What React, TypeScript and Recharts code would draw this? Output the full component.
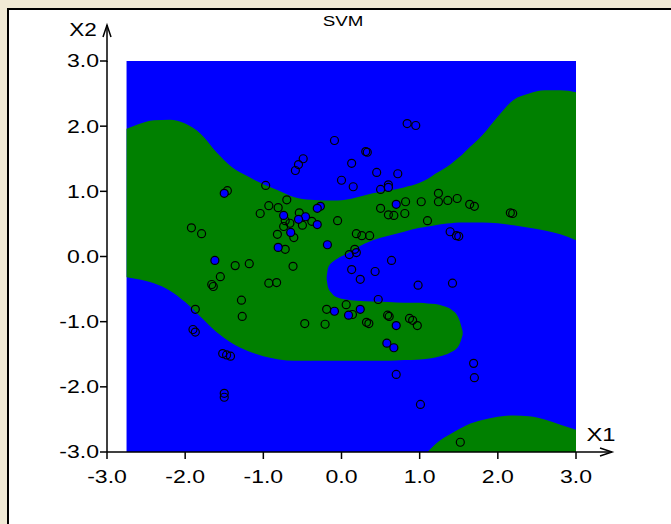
import React from 'react';
import { ComposedChart, Area, Scatter, XAxis, YAxis } from 'recharts';

// boundary columns of the decision regions
const xs = [-2.75, -2.6, -2.4, -2.2, -2.0, -1.8, -1.6, -1.4, -1.2, -1.0, -0.8, -0.6, -0.4, -0.2, -0.17, -0.12, -0.05, 0.05, 0.2, 0.4, 0.6, 0.8, 1.0, 1.1, 1.2, 1.3, 1.4, 1.5, 1.55, 1.6, 1.8, 2.0, 2.2, 2.4, 2.6, 2.8, 3.0];
const bandHigh = [1.96, 2.03, 2.09, 2.10, 2.04, 1.88, 1.60, 1.37, 1.23, 1.11, 1.01, 0.91, 0.87, 0.86, 0.86, 0.86, 0.86, 0.87, 0.91, 0.97, 1.01, 1.06, 1.13, 1.19, 1.27, 1.34, 1.42, 1.52, 1.57, 1.63, 1.86, 2.15, 2.40, 2.50, 2.55, 2.55, 2.52];
const bandLow = [-0.32, -0.35, -0.41, -0.52, -0.70, -0.93, -1.16, -1.33, -1.45, -1.53, -1.58, -1.60, -1.60, -0.40, -0.17, -0.09, -0.03, 0.03, 0.14, 0.25, 0.32, 0.38, 0.44, 0.46, 0.48, 0.50, 0.51, 0.52, 0.52, 0.52, 0.52, 0.51, 0.48, 0.44, 0.40, 0.34, 0.25];
const tongueLow = [null, null, null, null, null, null, null, null, null, null, null, null, -1.60, -1.60, -1.60, -1.60, -1.60, -1.60, -1.60, -1.60, -1.60, -1.59, -1.58, -1.57, -1.55, -1.52, -1.47, -1.37, -1.20, null, null, null, null, null, null, null, null];
const tongueHigh = [null, null, null, null, null, null, null, null, null, null, null, null, -0.32, -0.32, -0.48, -0.57, -0.63, -0.66, -0.68, -0.69, -0.70, -0.71, -0.71, -0.72, -0.73, -0.76, -0.81, -0.95, -1.15, null, null, null, null, null, null, null, null];
const hillHigh = [null, null, null, null, null, null, null, null, null, null, null, null, null, null, null, null, null, null, null, null, null, null, null, -3.0, -2.88, -2.79, -2.72, -2.65, -2.62, -2.59, -2.51, -2.46, -2.44, -2.45, -2.50, -2.58, -2.66];

const openPts: [number, number][] = [
  [-0.49, 1.50], [-0.55, 1.41], [-0.59, 1.32], [-0.97, 1.09], [-1.46, 1.01], [-0.70, 0.87],
  [-0.93, 0.78], [-0.81, 0.75], [-1.04, 0.66], [-0.54, 0.67], [-0.38, 0.54], [-0.72, 0.55],
  [-0.74, 0.46], [-0.66, 0.51], [-0.50, 0.48], [-0.61, 0.29], [-0.82, 0.34], [-0.72, 0.11],
  [-1.92, 0.44], [-1.79, 0.35], [0.84, 2.04], [0.95, 2.01], [-0.09, 1.78], [0.31, 1.61],
  [0.33, 1.60], [0.13, 1.43], [0.45, 1.29], [0.72, 1.27], [0.00, 1.17], [0.15, 1.07],
  [0.50, 1.03], [0.60, 1.10], [1.24, 0.97], [1.48, 0.89], [1.36, 0.86], [1.24, 0.84],
  [1.02, 0.84], [0.82, 0.84], [0.50, 0.74], [0.81, 0.66], [0.60, 0.64], [0.67, 0.63],
  [1.10, 0.55], [-0.05, 0.55], [0.19, 0.35], [0.26, 0.32], [0.36, 0.32], [0.17, 0.11],
  [0.10, 0.03], [0.19, 0.06], [1.39, 0.38], [1.47, 0.32], [1.50, 0.31], [1.64, 0.80],
  [1.70, 0.77], [2.16, 0.67], [2.19, 0.66], [-1.36, -0.14], [-1.18, -0.11], [-0.62, -0.15],
  [-1.55, -0.31], [-1.66, -0.43], [-1.64, -0.46], [-0.93, -0.41], [-0.83, -0.40], [-1.28, -0.67],
  [-1.27, -0.92], [-1.87, -0.81], [-1.90, -1.12], [-1.87, -1.16], [-0.47, -1.03], [-1.52, -1.49],
  [-1.47, -1.51], [-1.42, -1.53], [0.64, -0.06], [0.13, -0.20], [0.43, -0.23], [0.24, -0.35],
  [0.98, -0.44], [1.42, -0.41], [0.47, -0.66], [0.06, -0.74], [-0.19, -0.81], [0.14, -0.89],
  [-0.21, -1.04], [0.32, -1.01], [0.35, -1.03], [0.59, -0.90], [0.61, -0.92], [0.87, -0.95],
  [0.91, -0.98], [0.97, -1.06], [1.69, -1.64], [1.70, -1.86], [0.70, -1.81], [1.01, -2.27],
  [1.52, -2.85], [-1.50, -2.10], [-1.50, -2.16],
];

const filledPts: [number, number][] = [
  [-1.50, 0.97], [-0.46, 0.61], [-0.55, 0.57], [-0.74, 0.63], [-0.65, 0.37], [-0.81, 0.14],
  [-0.27, 0.77], [-0.31, 0.74], [-0.31, 0.49], [0.60, 1.06], [0.70, 0.80], [-0.18, 0.18],
  [-1.62, -0.06], [-0.09, -0.84], [0.24, -0.81], [0.09, -0.90], [0.70, -1.06], [0.58, -1.33],
  [0.67, -1.40],
];

const axisTicks = [-3, -2, -1, 0, 1, 2, 3];

const regionData = xs.map((x, i) => ({
  x,
  blue: [-3, 3],
  band: [bandLow[i], bandHigh[i]],
  tongue: tongueLow[i] == null ? null : [tongueLow[i], tongueHigh[i]],
  hill: hillHigh[i] == null ? null : [-3, hillHigh[i]],
}));

const openData = openPts.map(([x, y]) => ({ x, y }));
const filledData = filledPts.map(([x, y]) => ({ x, y }));

const FONT = 'Liberation Sans, Arial, sans-serif';

const XTick = (props: any) => {
  const { x, y, payload } = props;
  return (
    <g transform={`translate(${x},${y})`}>
      <text transform="scale(1.28,1)" textAnchor="middle" dy="0.71em" fontSize={18} fontFamily={FONT} fill="#000">
        {Number(payload.value).toFixed(1)}
      </text>
    </g>
  );
};

const YTick = (props: any) => {
  const { x, y, payload } = props;
  return (
    <g transform={`translate(${x},${y})`}>
      <text transform="scale(1.28,1)" textAnchor="end" dy="0.36em" fontSize={18} fontFamily={FONT} fill="#000">
        {Number(payload.value).toFixed(1)}
      </text>
    </g>
  );
};

const ring = (fill: string) => (props: any) => (
  <circle cx={props.cx} cy={props.cy} r={4} fill={fill} stroke="#000" strokeWidth={1.2} />
);

export default function App() {
  return (
    <div style={{ position: 'fixed', left: 0, top: 0, width: 671, height: 524, background: '#f1ead6', overflow: 'hidden' }}>
      <div style={{ position: 'absolute', left: 7, top: 8, width: 700, height: 560, background: '#fff', borderLeft: '2px solid #000', borderTop: '2px solid #000' }} />
      <div style={{ position: 'absolute', left: 0, top: 0 }}>
        <ComposedChart width={671} height={524} data={regionData} margin={{ top: 61, right: 95, left: 47, bottom: 42 }}>
          <XAxis
            type="number"
            dataKey="x"
            domain={[-3, 3]}
            ticks={axisTicks}
            allowDataOverflow
            height={30}
            tickSize={7}
            tickMargin={11}
            tick={<XTick />}
            axisLine={{ stroke: '#000', strokeWidth: 1.5 }}
            tickLine={{ stroke: '#000', strokeWidth: 1.5 }}
          />
          <YAxis
            type="number"
            dataKey="y"
            domain={[-3, 3]}
            ticks={axisTicks}
            allowDataOverflow
            width={60}
            tickSize={7}
            tickMargin={1}
            tick={<YTick />}
            axisLine={{ stroke: '#000', strokeWidth: 1.5 }}
            tickLine={{ stroke: '#000', strokeWidth: 1.5 }}
          />
          <Area dataKey="blue" type="linear" stroke="none" fill="#0000ff" fillOpacity={1} isAnimationActive={false} dot={false} activeDot={false} />
          <Area dataKey="band" type="monotone" stroke="none" fill="#008000" fillOpacity={1} isAnimationActive={false} dot={false} activeDot={false} />
          <Area dataKey="tongue" type="monotone" stroke="none" fill="#008000" fillOpacity={1} isAnimationActive={false} dot={false} activeDot={false} />
          <Area dataKey="hill" type="monotone" stroke="none" fill="#008000" fillOpacity={1} isAnimationActive={false} dot={false} activeDot={false} />
          <Scatter data={openData} dataKey="y" shape={ring('none')} isAnimationActive={false} />
          <Scatter data={filledData} dataKey="y" shape={ring('#0000ff')} isAnimationActive={false} />
        </ComposedChart>
      </div>
      <svg width={671} height={524} style={{ position: 'absolute', left: 0, top: 0, pointerEvents: 'none' }}>
        <line x1={107} y1={62} x2={107} y2={25} stroke="#000" strokeWidth={1.5} />
        <polyline points="103,37 107,25 111,37" fill="none" stroke="#000" strokeWidth={1.5} />
        <line x1={576} y1={452} x2={612} y2={452} stroke="#000" strokeWidth={1.5} />
        <polyline points="600,448 612,452 600,456" fill="none" stroke="#000" strokeWidth={1.5} />
        <text transform="translate(343,26) scale(1.25,1)" textAnchor="middle" fontSize={15} fontFamily={FONT} fill="#000">SVM</text>
        <text transform="translate(83,36) scale(1.25,1)" textAnchor="middle" fontSize={18} fontFamily={FONT} fill="#000">X2</text>
        <text transform="translate(601,441) scale(1.25,1)" textAnchor="middle" fontSize={19} fontFamily={FONT} fill="#000">X1</text>
      </svg>
    </div>
  );
}
